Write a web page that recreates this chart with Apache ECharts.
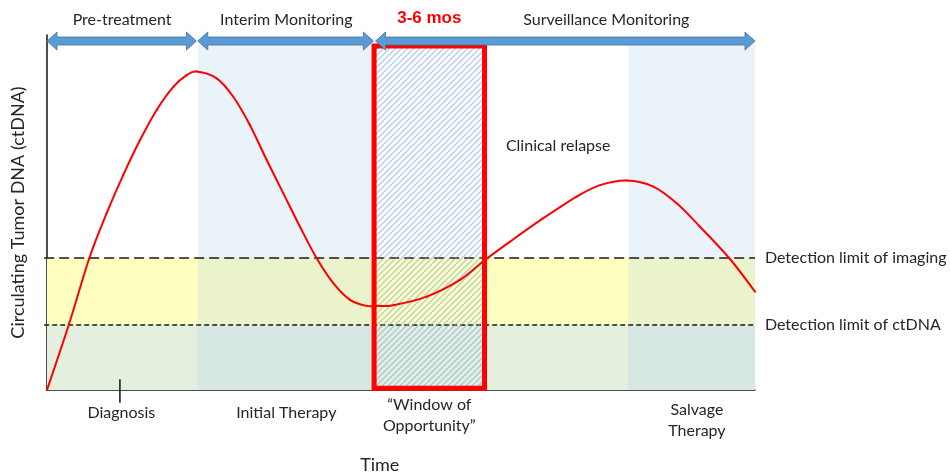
<!DOCTYPE html>
<html>
<head>
<meta charset="utf-8">
<script src="https://cdn.jsdelivr.net/npm/echarts@6/dist/echarts.min.js"></script>
<style>
  html, body { margin: 0; padding: 0; background: #fff; }
  #main { width: 950px; height: 475px; }
</style>
</head>
<body>
<div id="main"></div>
<script>
// time runs 0..100 on x, ctDNA level 0..100 on y (arbitrary units)
const curveX = [0, 3.15, 5.97, 8.43, 10.78, 13.14, 15.49, 17.84, 19.73, 21.14, 23.97, 26.31, 28.67, 31.03, 33.38, 35.73, 38.09, 40.44, 42.8, 45.16, 46.57, 48.9, 53.63, 58.33, 61.86, 65.4, 70.1, 74.82, 78.11, 81.88, 85.64, 88.94, 92.23, 96.47, 100];
const curveY = [0, 18.8, 37.1, 49.8, 60.6, 70.4, 78.9, 85.4, 88.7, 89.7, 87.8, 82.6, 74.6, 64.8, 55.4, 46.0, 37.1, 30.1, 25.4, 23.7, 23.7, 23.9, 26.3, 31.0, 36.6, 41.8, 48.4, 54.5, 57.7, 59.0, 57.3, 52.6, 46.0, 36.9, 27.7];

const imagingLimit = 37.2;
const ctdnaLimit = 18.3;
const shadeTop = 97.5;

// monitoring phases (arrows along the top)
const phaseLabels = ['Pre-treatment', 'Interim Monitoring', 'Surveillance Monitoring'];
const phaseStart = [0, 21.3, 46.4];
const phaseEnd = [21.1, 46.1, 100];
const phaseLabelX = [10.6, 33.8, 79.0];
const arrowY = 98.3;
const topLabelY = 104.2;

// light blue columns (treatment periods)
const columnStart = [21.3, 82.1];
const columnEnd = [46.2, 100];

// window of opportunity
const windowStart = 46.2;
const windowEnd = 61.8;
const windowTop = 96.9;
const windowLabel = '3-6 mos';
const windowLabelX = 54.0;

// events under the time axis
const eventLabels = ['Diagnosis', 'Initial Therapy', '\u201cWindow of\nOpportunity\u201d', 'Salvage\nTherapy'];
const eventX = [10.5, 33.8, 54.0, 91.8];
const eventY = [-6.5, -6.5, -7.0, -8.5];
const diagnosisTickX = 10.3;

const limitLabels = ['Detection limit of imaging', 'Detection limit of ctDNA'];
const limitValues = [imagingLimit, ctdnaLimit];

const FONT = 'Lato, "Open Sans", sans-serif';

const chart = echarts.init(document.getElementById('main'));

// hatch pattern for the window box
const hatch = document.createElement('canvas');
hatch.width = 6; hatch.height = 6;
(function () {
  const c = hatch.getContext('2d');
  c.strokeStyle = 'rgba(110,160,215,0.5)';
  c.lineWidth = 1.4;
  c.beginPath();
  c.moveTo(-1, 7); c.lineTo(7, -1);
  c.moveTo(-4, 4); c.lineTo(4, -4);
  c.moveTo(2, 10); c.lineTo(10, 2);
  c.stroke();
})();

function rectShape(api, x0, x1, y0, y1) {
  const a = api.coord([x0, y1]);
  const b = api.coord([x1, y0]);
  return { x: a[0], y: a[1], width: b[0] - a[0], height: b[1] - a[1] };
}

function bandSeries(data, fill, z) {
  return {
    type: 'custom', z: z, silent: true,
    data: data,
    renderItem: (params, api) => ({
      type: 'rect',
      shape: rectShape(api, api.value(0), api.value(1), api.value(2), api.value(3)),
      style: { fill: fill }
    })
  };
}

function textSeries(data, texts, style, z) {
  return {
    type: 'custom', z: z || 10, silent: true,
    data: data,
    renderItem: (params, api) => {
      const p = api.coord([api.value(0), api.value(1)]);
      return {
        type: 'text',
        style: Object.assign({
          text: texts[api.value(2)], x: p[0], y: p[1],
          fill: '#262626', fontFamily: FONT, fontSize: 16,
          align: 'center', verticalAlign: 'middle', lineHeight: 21
        }, style)
      };
    }
  };
}

// smooth curve: one Catmull-Rom segment per data point (to the next one)
function curveSegment(params, api) {
  const i = params.dataIndex;
  const n = curveX.length;
  if (i >= n - 1) return null;
  const pt = k => api.coord([curveX[Math.max(0, Math.min(n - 1, k))], curveY[Math.max(0, Math.min(n - 1, k))]]);
  const p0 = pt(i - 1), p1 = pt(i), p2 = pt(i + 1), p3 = pt(i + 2);
  return {
    type: 'bezierCurve',
    shape: {
      x1: p1[0], y1: p1[1], x2: p2[0], y2: p2[1],
      cpx1: p1[0] + (p2[0] - p0[0]) / 6, cpy1: p1[1] + (p2[1] - p0[1]) / 6,
      cpx2: p2[0] - (p3[0] - p1[0]) / 6, cpy2: p2[1] - (p3[1] - p1[1]) / 6
    },
    style: { stroke: '#ff0000', lineWidth: 2, fill: null, lineCap: 'round' }
  };
}

const option = {
  animation: false,
  grid: { left: 47, right: 195, top: 35, bottom: 85, containLabel: false, outerBoundsMode: 'none' },
  xAxis: {
    type: 'value', min: 0, max: 100,
    axisLine: { lineStyle: { color: '#111', width: 1.5 } },
    axisTick: { show: false }, axisLabel: { show: false }, splitLine: { show: false }
  },
  yAxis: {
    type: 'value', min: 0, max: 100,
    name: 'Circulating Tumor DNA (ctDNA)',
    nameLocation: 'middle', nameGap: 20,
    nameTextStyle: { fontFamily: FONT, fontSize: 18, color: '#262626' },
    axisLine: { show: true, lineStyle: { color: '#111', width: 1.5 } },
    axisTick: { show: false }, axisLabel: { show: false }, splitLine: { show: false }
  },
  series: [
    bandSeries([[0, 100, ctdnaLimit, imagingLimit]], '#ffffc0', 1),
    bandSeries([[0, 100, 0, ctdnaLimit]], '#e5efde', 1),
    bandSeries(columnStart.map((s, i) => [s, columnEnd[i], 0, shadeTop]), 'rgba(175,207,235,0.26)', 2),
    // detection limit lines
    {
      type: 'custom', z: 3, silent: true,
      data: limitValues.map((v, i) => [v, i]),
      renderItem: (params, api) => {
        const a = api.coord([-0.4, api.value(0)]);
        const b = api.coord([100, api.value(0)]);
        return {
          type: 'line',
          shape: { x1: a[0], y1: a[1], x2: b[0], y2: b[1] },
          style: { stroke: '#1a1a1a', lineWidth: 1.6, lineDash: api.value(1) === 0 ? [10, 5] : [5, 3] }
        };
      }
    },
    // window of opportunity box
    {
      type: 'custom', z: 4, silent: true,
      data: [[windowStart, windowEnd, 0.5, windowTop]],
      renderItem: (params, api) => ({
        type: 'rect',
        shape: rectShape(api, api.value(0), api.value(1), api.value(2), api.value(3)),
        style: { fill: { image: hatch, repeat: 'repeat' }, stroke: '#ff0000', lineWidth: 5 }
      })
    },
    // phase arrows
    {
      type: 'custom', z: 5, silent: true,
      data: phaseStart.map((s, i) => [s, phaseEnd[i], arrowY]),
      renderItem: (params, api) => {
        const a = api.coord([api.value(0), api.value(2)]);
        const b = api.coord([api.value(1), api.value(2)]);
        const y = a[1], x0 = a[0], x1 = b[0];
        const h = 4, H = 9, L = 10;
        return {
          type: 'polygon',
          shape: { points: [[x0, y], [x0 + L, y - H], [x0 + L, y - h], [x1 - L, y - h], [x1 - L, y - H], [x1, y],
            [x1 - L, y + H], [x1 - L, y + h], [x0 + L, y + h], [x0 + L, y + H]] },
          style: { fill: '#5b9bd5', stroke: '#41719c', lineWidth: 0.8 }
        };
      }
    },
    // diagnosis tick
    {
      type: 'custom', z: 5, silent: true,
      data: [[diagnosisTickX]],
      renderItem: (params, api) => {
        const a = api.coord([api.value(0), 3.0]);
        const b = api.coord([api.value(0), -3.6]);
        return { type: 'line', shape: { x1: a[0], y1: a[1], x2: b[0], y2: b[1] }, style: { stroke: '#111', lineWidth: 1.5 } };
      }
    },
    {
      type: 'custom', z: 6, silent: true,
      data: curveX.map((x, i) => [x, curveY[i]]),
      renderItem: curveSegment
    },
    textSeries(phaseLabelX.map((x, i) => [x, topLabelY, i]), phaseLabels, {}),
    textSeries([[windowLabelX, 104.8, 0]], [windowLabel],
      { fill: '#ff0000', fontFamily: '"Liberation Sans", Arial, sans-serif', fontWeight: 'bold', fontSize: 17 }),
    textSeries(eventX.map((x, i) => [x, eventY[i], i]), eventLabels, {}),
    textSeries(limitValues.map((v, i) => [101.4, v, i]), limitLabels, { align: 'left' }),
    textSeries([[72.2, 68.8, 0]], ['Clinical relapse'], {}),
    textSeries([[47.0, -21.3, 0]], ['Time'], { fontSize: 18 })
  ]
};
chart.setOption(option);
</script>
</body>
</html>
